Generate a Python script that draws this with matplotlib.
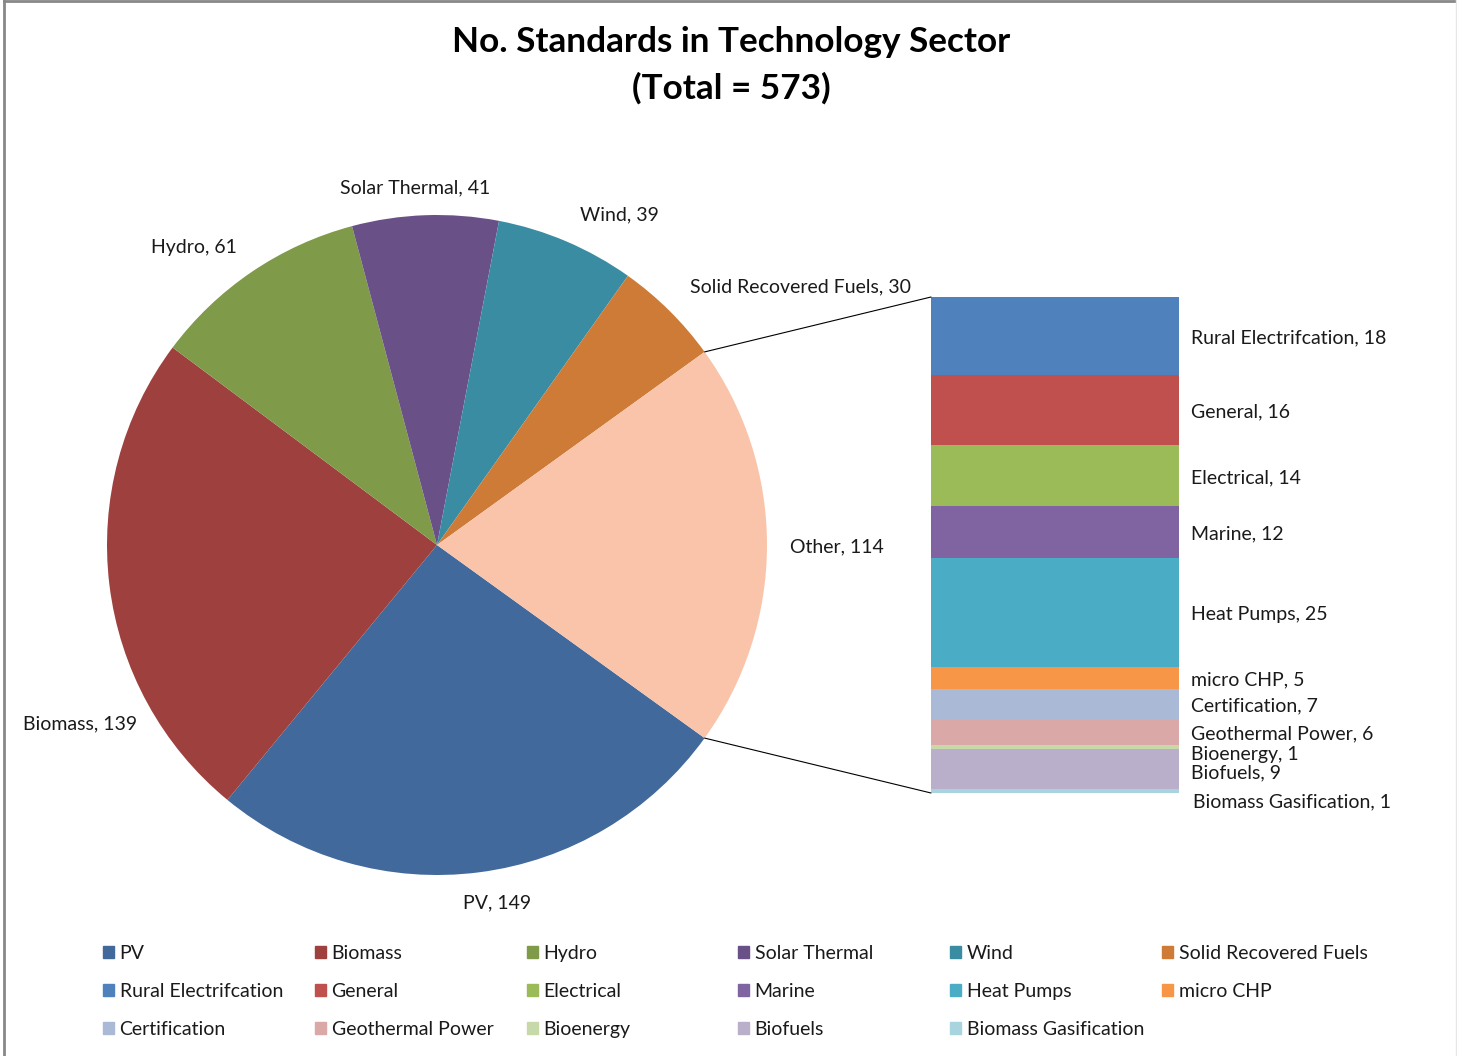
import numpy as np
import matplotlib
matplotlib.use("Agg")
import matplotlib.pyplot as plt
from matplotlib.patches import ConnectionPatch, Patch
from matplotlib.lines import Line2D

plt.rcParams['font.family'] = ['Lato', 'DejaVu Sans']

# pie data (clockwise from the bottom edge of "Other")
pie_names = ['PV', 'Biomass', 'Hydro', 'Solar Thermal', 'Wind', 'Solid Recovered Fuels', 'Other']
pie_values = [149, 139, 61, 41, 39, 30, 114]
pie_colors = ['#41699C', '#9E413E', '#7F9A48', '#695188', '#3A8CA3', '#CD7B37', '#F9C4AA']

# breakdown of "Other", top to bottom
bar_names = ['Rural Electrifcation', 'General', 'Electrical', 'Marine', 'Heat Pumps', 'micro CHP',
             'Certification', 'Geothermal Power', 'Bioenergy', 'Biofuels', 'Biomass Gasification']
bar_values = [18, 16, 14, 12, 25, 5, 7, 6, 1, 9, 1]
bar_colors = ['#4F81BD', '#C0504D', '#9BBB59', '#8064A2', '#4BACC6', '#F79646',
              '#A9B9D6', '#DAA8A7', '#C7D9A8', '#BAAFCA', '#A8D4E0']

title = ['No. Standards in Technology Sector', '(Total = 573)']
txt = '#1a1a1a'
fs = 14

W, H = 1457, 1056
fig = plt.figure(figsize=(W / 100, H / 100), dpi=100)


def box(x0, y0, x1, y1):
    return [x0 / W, 1 - y1 / H, (x1 - x0) / W, (y1 - y0) / H]


# outer chart border
fig.add_artist(Line2D([3.5 / W, 3.5 / W], [0, 1 - 1 / H], color='#888888', lw=2))
fig.add_artist(Line2D([3.5 / W, 1], [1 - 1 / H, 1 - 1 / H], color='#888888', lw=2))
fig.add_artist(Line2D([1 - 1.5 / W, 1 - 1.5 / W], [0, 1], color='#e6e6e6', lw=1))

fig.text(731 / W, 1 - 42 / H, title[0], ha='center', va='center', fontsize=25.3, fontweight='bold', color='black')
fig.text(731 / W, 1 - 88 / H, title[1], ha='center', va='center', fontsize=25.3, fontweight='bold', color='black')

# pie
ax_pie = fig.add_axes(box(107, 215, 767, 875))
half = 180.0 * pie_values[-1] / sum(pie_values)
ax_pie.pie(pie_values, colors=pie_colors, startangle=-half, counterclock=False, radius=1)
ax_pie.set_xlim(-1, 1)
ax_pie.set_ylim(-1, 1)
ax_pie.axis('off')

label_pos = [(0.182, -1.085), (-1.082, -0.542), (-0.736, 0.903), (-0.067, 1.082),
             (0.552, 1.0), (1.10, 0.782), (1.212, -0.006)]
for name, v, (lx, ly) in zip(pie_names, pie_values, label_pos):
    ax_pie.text(lx, ly, f'{name}, {v}', ha='center', va='center', fontsize=fs, color=txt)

# bar of "Other"
ax_bar = fig.add_axes(box(931, 297, 1179, 793))
bottoms = np.concatenate([[0], np.cumsum(bar_values)[:-1]])
ax_bar.bar(0, bar_values, bottom=bottoms, width=1, color=bar_colors)
ax_bar.set_xlim(-0.5, 0.5)
ax_bar.set_ylim(sum(bar_values), 0)
ax_bar.axis('off')

shift = [2, 2, 2, 2, 2, 2, 2, 2, 7, 4, 11]
for name, v, b, s in zip(bar_names, bar_values, bottoms, shift):
    ax_bar.annotate(f'{name}, {v}', xy=(0.5, b + v / 2), xytext=(8.5 if s < 10 else 10, -s * 0.72),
                    textcoords='offset points', ha='left', va='center', fontsize=fs, color=txt)

a = np.radians(half)
for yb, sgn in [(0, 1), (sum(bar_values), -1)]:
    con = ConnectionPatch(xyA=(np.cos(a), sgn * np.sin(a)), coordsA=ax_pie.transData,
                          xyB=(-0.5, yb), coordsB=ax_bar.transData, color='black', lw=0.8)
    fig.add_artist(con)

# legend: 6 evenly spaced columns, filled row by row
all_names = pie_names[:-1] + bar_names
all_colors = pie_colors[:-1] + bar_colors
col_x = [103, 315, 527, 738, 950, 1162]
for j, x in enumerate(col_x):
    idx = list(range(j, len(all_names), 6))
    handles = [Patch(color=all_colors[i], label=all_names[i]) for i in idx]
    fig.legend(handles=handles, loc='upper left', bbox_to_anchor=(x / W, 1 - 945 / H),
               frameon=False, fontsize=fs, handlelength=0.55, handleheight=0.55,
               handletextpad=0.3, labelspacing=1.08, borderpad=0, borderaxespad=0,
               labelcolor=txt)

fig.savefig('out.png', dpi=100)
